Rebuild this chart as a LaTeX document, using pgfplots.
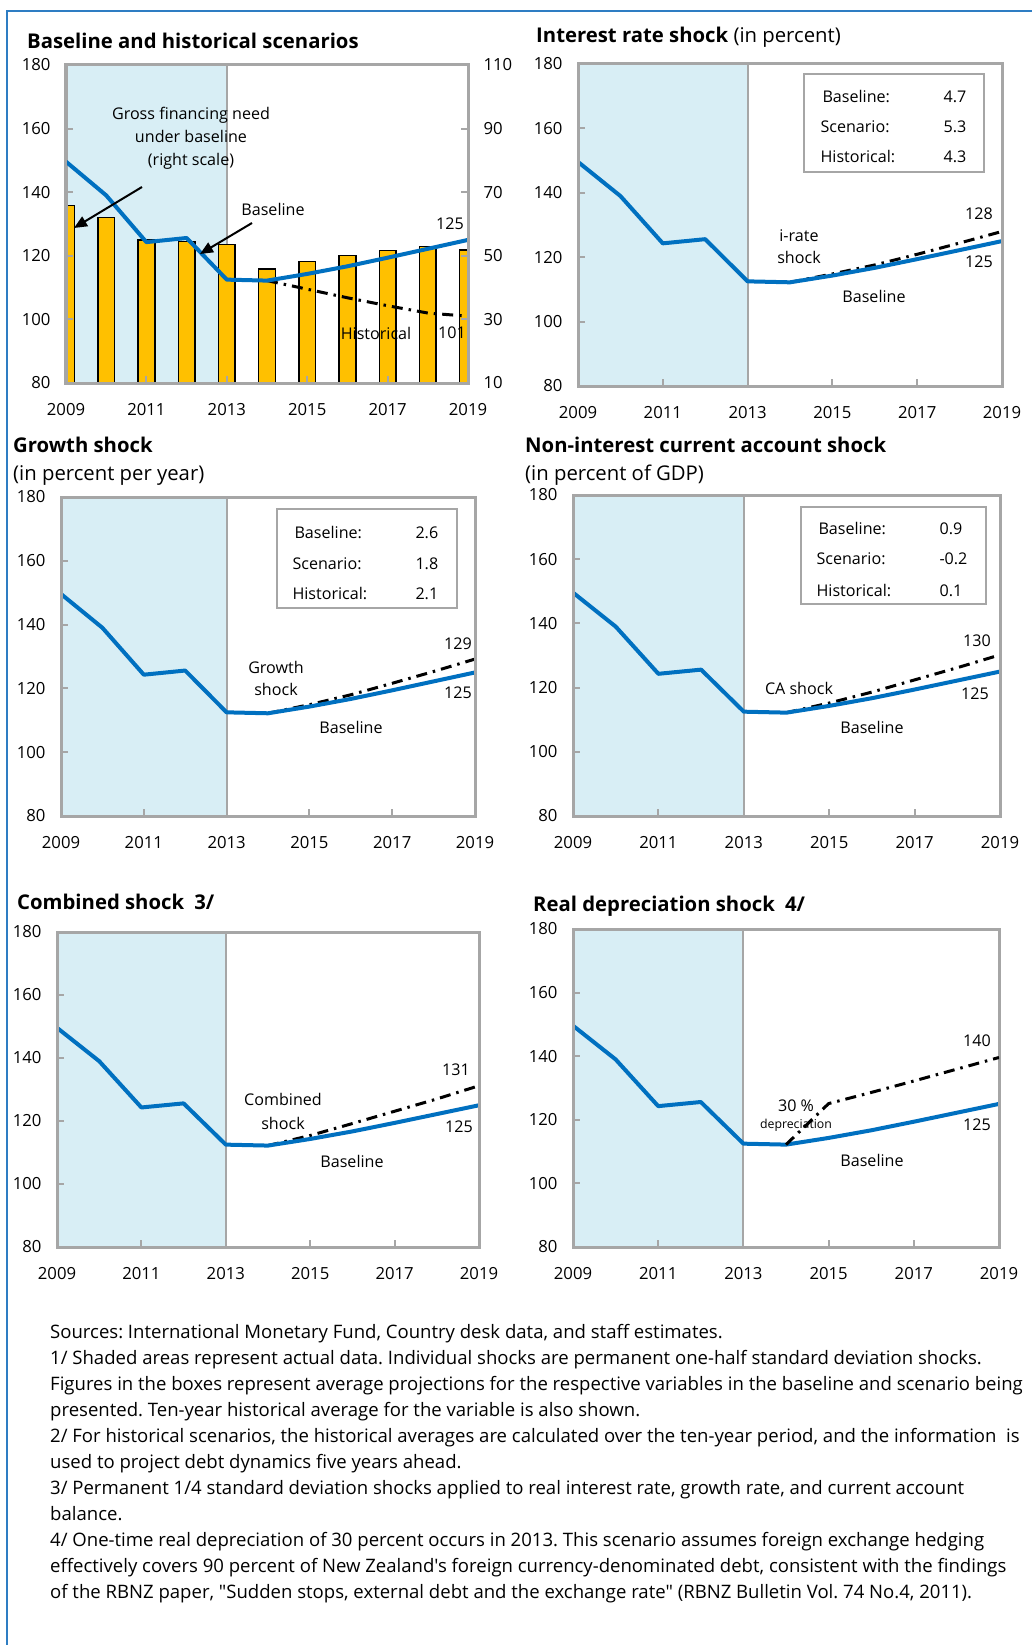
\documentclass[border=0pt]{standalone}
\usepackage{pgfplots}
\usepackage{pgfplotstable}
\pgfplotsset{compat=1.18}
\usepackage{fontspec}
\setmainfont{Open Sans}[Ligatures=TeXOff]
\usetikzlibrary{arrows.meta}
\frenchspacing

\definecolor{lineblue}{RGB}{0,112,192}
\definecolor{shadeblue}{RGB}{216,238,245}
\definecolor{framegray}{RGB}{166,166,166}
\definecolor{gold}{RGB}{255,192,0}
\definecolor{borderblue}{RGB}{46,125,195}

\newcommand\tk{\fontsize{16.7}{19}\selectfont}
\newcommand\an{\fontsize{16.1}{19}\selectfont}
\newcommand\ttl{\fontsize{20.3}{24}\selectfont}
\newcommand\fn{\fontsize{18.55}{26}\selectfont}

\pgfplotstableread{
x y
2009 149.6
2010 139.0
2011 124.3
2012 125.6
2013 112.5
2014 112.2
2015 114.3
2016 116.7
2017 119.4
2018 122.2
2019 125.0
}\base

\pgfplotstableread{
x y
2009 65.8
2010 62.0
2011 54.9
2012 54.5
2013 53.5
2014 45.8
2015 48.2
2016 50.1
2017 51.7
2018 52.9
2019 51.9
}\gfn

\pgfplotstableread{
x y
2014 112.2
2015 109.5
2016 106.8
2017 104.3
2018 102.0
2019 101.0
}\hist

\pgfplotstableread{
x y
2014 112.2
2015 114.8
2016 117.6
2017 120.9
2018 124.4
2019 128.0
}\irate

\pgfplotstableread{
x y
2014 112.2
2015 114.9
2016 118.0
2017 121.6
2018 125.3
2019 129.2
}\growth

\pgfplotstableread{
x y
2014 112.2
2015 115.2
2016 118.6
2017 122.4
2018 126.2
2019 130.2
}\cashock

\pgfplotstableread{
x y
2014 112.2
2015 115.4
2016 119.2
2017 123.1
2018 127.0
2019 131.2
}\comb

\pgfplotstableread{
x y
2014 112.2
2015 125.1
2016 128.6
2017 132.2
2018 135.9
2019 139.6
}\depr

\tikzset{dd/.style={black, line width=3pt, dash pattern=on 11pt off 6pt on 2.5pt off 6pt},
  bl/.style={lineblue, line width=4pt, line join=round}}

\pgfplotsset{
 panel/.style={
  scale only axis, anchor=south west,
  xmin=2009, xmax=2019, ymin=80, ymax=180,
  xtick={2009,2011,2013,2015,2017,2019},
  ytick={80,100,120,140,160,180},
  xtick pos=left, ytick pos=left,
  tick align=inside,
  major tick length=7pt,
  tick style={framegray, line width=2pt},
  axis line style={framegray, line width=3pt},
  tick label style={font=\tk},
  xticklabel style={yshift=-16.5pt},
  /pgf/number format/assume math mode=true,
  /pgf/number format/1000 sep={},
  axis on top,
 },
 leftlab/.style={yticklabel style={xshift=-12pt}},
}

\newcommand\histshade{%
  \fill[shadeblue] (axis cs:2009,80) rectangle (axis cs:2013,180);
  \draw[framegray, line width=2pt] (axis cs:2013,80) -- (axis cs:2013,180);}

\begin{document}
\begin{tikzpicture}
\useasboundingbox (0,0) rectangle (1032pt,-1645pt);
\fill[white] (0,0) rectangle (1032pt,-1645pt);
\draw[borderblue, line width=2pt] (7pt,-1645pt) -- (7pt,-11pt) -- (1032pt,-11pt);

% ---------- Panel 1
\begin{axis}[panel, at={(66pt,-383pt)}, width=402pt, height=318pt,
  ymin=10, ymax=110, ytick={10,30,50,70,90,110},
  ytick pos=right, yticklabel pos=right, yticklabel style={xshift=12pt},
  xticklabels={}]
\fill[shadeblue] (axis cs:2009,10) rectangle (axis cs:2013,110);
\draw[framegray, line width=2pt] (axis cs:2013,10) -- (axis cs:2013,110);
\addplot[ybar, bar width=16.7pt, fill=gold, draw=black, line width=1.5pt] table[x=x,y=y] {\gfn};
\end{axis}
\begin{axis}[panel, leftlab, at={(66pt,-383pt)}, width=402pt, height=318pt]
\addplot[dd] table[x=x,y=y] {\hist};
\addplot[bl] table[x=x,y=y] {\base};
\end{axis}
\node[anchor=base west, font=\ttl\bfseries, inner sep=0pt] at (27pt,-49pt) {Baseline and historical scenarios};
\begin{scope}[font=\an]
\node[anchor=base] at (191pt,-120pt) {Gross financing need};
\node[anchor=base] at (191pt,-143pt) {under baseline};
\node[anchor=base] at (191pt,-166pt) {(right scale)};
\node[anchor=base] at (273pt,-216pt) {Baseline};
\node[anchor=base] at (450pt,-230pt) {125};
\node[anchor=base] at (376pt,-339pt) {Historical};
\node[anchor=base] at (452pt,-338pt) {101};
\end{scope}
\draw[black, line width=2pt, -{Triangle[length=13pt,width=11pt]}] (142pt,-187pt) -- (74pt,-228pt);
\draw[black, line width=2pt, -{Triangle[length=13pt,width=11pt]}] (252pt,-223pt) -- (200pt,-254pt);

% ---------- Panel 2
\begin{axis}[panel, leftlab, at={(578pt,-386pt)}, width=424pt, height=322pt]
\histshade
\addplot[dd] table[x=x,y=y] {\irate};
\addplot[bl] table[x=x,y=y] {\base};
\end{axis}
\node[anchor=base west, font=\ttl, inner sep=0pt] at (536pt,-43pt) {\textbf{Interest rate shock} (in percent)};
\draw[framegray, line width=2.5pt, fill=white] (804pt,-74pt) rectangle (984pt,-172pt);
\begin{scope}[font=\an]
\node[anchor=base west] at (819pt,-103pt) {Baseline:};
\node[anchor=base west] at (817pt,-133pt) {Scenario:};
\node[anchor=base west] at (817pt,-163pt) {Historical:};
\node[anchor=base west] at (940pt,-103pt) {4.7};
\node[anchor=base west] at (940pt,-133pt) {5.3};
\node[anchor=base west] at (940pt,-163pt) {4.3};
\node[anchor=base] at (799pt,-242pt) {i-rate};
\node[anchor=base] at (799pt,-264pt) {shock};
\node[anchor=base] at (874pt,-302pt) {Baseline};
\node[anchor=base] at (979pt,-220pt) {128};
\node[anchor=base] at (979pt,-268pt) {125};
\end{scope}

% ---------- Panel 3
\begin{axis}[panel, leftlab, at={(61pt,-816pt)}, width=414pt, height=319pt]
\histshade
\addplot[dd] table[x=x,y=y] {\growth};
\addplot[bl] table[x=x,y=y] {\base};
\end{axis}
\node[anchor=base west, font=\ttl\bfseries, inner sep=0pt] at (13pt,-452pt) {Growth shock};
\node[anchor=base west, font=\ttl, inner sep=0pt] at (13pt,-480pt) {(in percent per year)};
\draw[framegray, line width=2.5pt, fill=white] (277pt,-509pt) rectangle (457pt,-608pt);
\begin{scope}[font=\an]
\node[anchor=base west] at (291pt,-538pt) {Baseline:};
\node[anchor=base west] at (289pt,-569pt) {Scenario:};
\node[anchor=base west] at (289pt,-599pt) {Historical:};
\node[anchor=base west] at (412pt,-538pt) {2.6};
\node[anchor=base west] at (412pt,-569pt) {1.8};
\node[anchor=base west] at (412pt,-599pt) {2.1};
\node[anchor=base] at (276pt,-673pt) {Growth};
\node[anchor=base] at (276pt,-695pt) {shock};
\node[anchor=base] at (351pt,-733pt) {Baseline};
\node[anchor=base] at (458pt,-649pt) {129};
\node[anchor=base] at (458pt,-698pt) {125};
\end{scope}

% ---------- Panel 4
\begin{axis}[panel, leftlab, at={(573pt,-816pt)}, width=427pt, height=321pt]
\histshade
\addplot[dd] table[x=x,y=y] {\cashock};
\addplot[bl] table[x=x,y=y] {\base};
\end{axis}
\node[anchor=base west, font=\ttl\bfseries, inner sep=0pt] at (525pt,-452pt) {Non-interest current account shock};
\node[anchor=base west, font=\ttl, inner sep=0pt] at (525pt,-480pt) {(in percent of GDP)};
\draw[framegray, line width=2.5pt, fill=white] (801pt,-507pt) rectangle (986pt,-604pt);
\begin{scope}[font=\an]
\node[anchor=base west] at (815pt,-534pt) {Baseline:};
\node[anchor=base west] at (813pt,-564pt) {Scenario:};
\node[anchor=base west] at (813pt,-596pt) {Historical:};
\node[anchor=base west] at (936pt,-534pt) {0.9};
\node[anchor=base west] at (936pt,-564pt) {-0.2};
\node[anchor=base west] at (936pt,-596pt) {0.1};
\node[anchor=base] at (799pt,-694pt) {CA shock};
\node[anchor=base] at (872pt,-733pt) {Baseline};
\node[anchor=base] at (977pt,-646pt) {130};
\node[anchor=base] at (975pt,-699pt) {125};
\end{scope}

% ---------- Panel 5
\begin{axis}[panel, leftlab, at={(57pt,-1247pt)}, width=422pt, height=315pt]
\histshade
\addplot[dd] table[x=x,y=y] {\comb};
\addplot[bl] table[x=x,y=y] {\base};
\end{axis}
\node[anchor=base west, font=\ttl\bfseries, inner sep=0pt] at (17pt,-909pt) {Combined shock\enspace 3/};
\begin{scope}[font=\an]
\node[anchor=base] at (283pt,-1105pt) {Combined};
\node[anchor=base] at (283pt,-1129pt) {shock};
\node[anchor=base] at (352pt,-1167pt) {Baseline};
\node[anchor=base] at (456pt,-1075pt) {131};
\node[anchor=base] at (459pt,-1132pt) {125};
\end{scope}

% ---------- Panel 6
\begin{axis}[panel, leftlab, at={(573pt,-1247pt)}, width=426pt, height=318pt]
\histshade
\addplot[bl] table[x=x,y=y] {\base};
\end{axis}
\node[anchor=base west, font=\ttl\bfseries, inner sep=0pt] at (533pt,-911pt) {Real depreciation shock\enspace 4/};
\begin{scope}[font=\an]
\node[anchor=base] at (796pt,-1111pt) {30 \%};
\node[anchor=base, font=\fontsize{12.3}{14}\selectfont] at (796pt,-1128pt) {depreciation};
\node[anchor=base] at (872pt,-1166pt) {Baseline};
\node[anchor=base] at (977pt,-1046pt) {140};
\node[anchor=base] at (977pt,-1130pt) {125};
\end{scope}
\begin{axis}[panel, leftlab, at={(573pt,-1247pt)}, width=426pt, height=318pt, hide axis]
\addplot[dd] table[x=x,y=y] {\depr};
\end{axis}

% ---------- Footnotes
\begin{scope}[font=\fn]
\node[anchor=base west, inner sep=0pt] at (50pt,-1338pt) {Sources: International Monetary Fund, Country desk data, and staff estimates.};
\node[anchor=base west, inner sep=0pt] at (50pt,-1364pt) {1/ Shaded areas represent actual data. Individual shocks are permanent one-half standard deviation shocks.};
\node[anchor=base west, inner sep=0pt] at (50pt,-1390pt) {Figures in the boxes represent average projections for the respective variables in the baseline and scenario being};
\node[anchor=base west, inner sep=0pt] at (50pt,-1416pt) {presented. Ten-year historical average for the variable is also shown.};
\node[anchor=base west, inner sep=0pt] at (50pt,-1442pt) {2/ For historical scenarios, the historical averages are calculated over the ten-year period, and the information\ \ is};
\node[anchor=base west, inner sep=0pt] at (50pt,-1468pt) {used to project debt dynamics five years ahead.};
\node[anchor=base west, inner sep=0pt] at (50pt,-1494pt) {3/ Permanent 1/4 standard deviation shocks applied to real interest rate, growth rate, and current account};
\node[anchor=base west, inner sep=0pt] at (50pt,-1520pt) {balance.};
\node[anchor=base west, inner sep=0pt] at (50pt,-1546pt) {4/ One-time real depreciation of 30 percent occurs in 2013. This scenario assumes foreign exchange hedging};
\node[anchor=base west, inner sep=0pt] at (50pt,-1572pt) {effectively covers 90 percent of New Zealand's foreign currency-denominated debt, consistent with the findings};
\node[anchor=base west, inner sep=0pt] at (50pt,-1598pt) {of the RBNZ paper, "Sudden stops, external debt and the exchange rate" (RBNZ Bulletin Vol. 74 No.4, 2011).};
\end{scope}
\end{tikzpicture}
\end{document}
